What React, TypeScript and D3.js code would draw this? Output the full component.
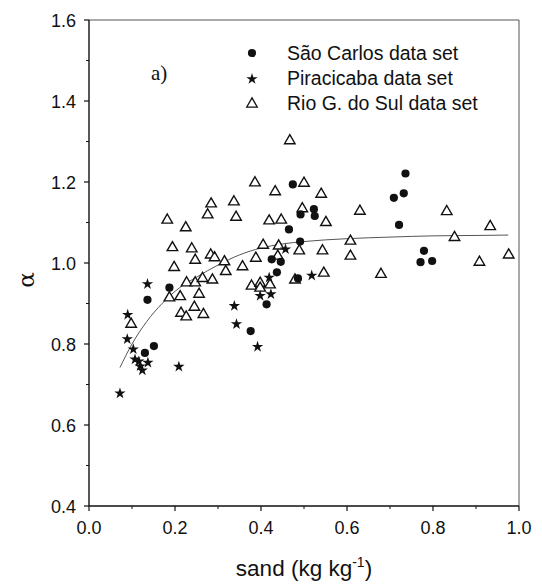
import React from "react";
import * as d3 from "d3";

const saoCarlos: [number, number][] = [
  [0.474, 1.194], [0.492, 1.12], [0.465, 1.083], [0.491, 1.053], [0.425, 1.009],
  [0.446, 1.003], [0.437, 0.977], [0.486, 0.962], [0.736, 1.221], [0.732, 1.172],
  [0.709, 1.161], [0.523, 1.133], [0.525, 1.116], [0.721, 1.094], [0.779, 1.03],
  [0.771, 1.002], [0.798, 1.005], [0.187, 0.939], [0.136, 0.909], [0.151, 0.795],
  [0.13, 0.778], [0.376, 0.832], [0.413, 0.898],
];

const piracicaba: [number, number][] = [
  [0.457, 1.034], [0.419, 0.964], [0.518, 0.969], [0.136, 0.948], [0.09, 0.872],
  [0.089, 0.812], [0.103, 0.787], [0.107, 0.762], [0.116, 0.757], [0.119, 0.745],
  [0.124, 0.735], [0.137, 0.754], [0.072, 0.678], [0.209, 0.744], [0.338, 0.894],
  [0.343, 0.849], [0.392, 0.793], [0.398, 0.919], [0.423, 0.923],
];

const rioGrande: [number, number][] = [
  [0.467, 1.302], [0.386, 1.198], [0.5, 1.197], [0.433, 1.176], [0.284, 1.146],
  [0.337, 1.151], [0.496, 1.134], [0.182, 1.106], [0.276, 1.119], [0.342, 1.113],
  [0.419, 1.104], [0.447, 1.106], [0.225, 1.087], [0.194, 1.038], [0.239, 1.035],
  [0.405, 1.044], [0.441, 1.042], [0.283, 1.02], [0.292, 1.013], [0.247, 1.007],
  [0.388, 1.012], [0.439, 1.017], [0.489, 1.03], [0.315, 1.003], [0.198, 0.989],
  [0.357, 0.991], [0.318, 0.979], [0.54, 1.17], [0.551, 1.1], [0.63, 1.128],
  [0.832, 1.127], [0.933, 1.09], [0.608, 1.054], [0.85, 1.063], [0.543, 1.03],
  [0.608, 1.017], [0.908, 1.002], [0.976, 1.02], [0.546, 0.975], [0.679, 0.972],
  [0.098, 0.849], [0.187, 0.914], [0.212, 0.917], [0.227, 0.951], [0.247, 0.951],
  [0.264, 0.962], [0.287, 0.958], [0.256, 0.923], [0.214, 0.876], [0.226, 0.867],
  [0.245, 0.891], [0.266, 0.873], [0.378, 0.943], [0.398, 0.95], [0.398, 0.938],
  [0.421, 0.946], [0.479, 0.958],
];

const fitX = [0.072, 0.1, 0.134, 0.17, 0.212, 0.25, 0.3, 0.35, 0.4, 0.45, 0.5, 0.6, 0.7, 0.8, 0.9, 0.975];
const fitY = [0.742, 0.8, 0.855, 0.9, 0.94, 0.965, 0.995, 1.02, 1.037, 1.047, 1.053, 1.06, 1.064, 1.067, 1.068, 1.069];

const xTicks = [0, 0.2, 0.4, 0.6, 0.8, 1.0];
const xMinor = [0.1, 0.3, 0.5, 0.7, 0.9];
const yTicks = [0.4, 0.6, 0.8, 1.0, 1.2, 1.4, 1.6];
const yMinor = [0.5, 0.7, 0.9, 1.1, 1.3, 1.5];

const legendLabels = ["São Carlos data set", "Piracicaba data set", "Rio G. do Sul data set"];

export default function App() {
  const x = d3.scaleLinear().domain([0, 1]).range([89, 519]);
  const y = d3.scaleLinear().domain([0.4, 1.6]).range([506, 20]);
  const font = "'Liberation Sans', Arial, sans-serif";

  const star = d3.symbol().type(d3.symbolStar).size(40)() as string;
  const tri = d3.symbol().type(d3.symbolTriangle).size(48)() as string;
  const fitLine = d3
    .line<number>()
    .x((_, i) => x(fitX[i]))
    .y((d) => y(d))
    .curve(d3.curveMonotoneX)(fitY) as string;

  const fmt = d3.format(".1f");

  return (
    <svg
      width={542}
      height={585}
      style={{ position: "absolute", left: 0, top: 0, background: "#fff" }}
    >
      <rect x={0} y={0} width={542} height={585} fill="#fff" />
      {/* frame */}
      <line x1={x(0)} x2={x(1)} y1={y(1.6)} y2={y(1.6)} stroke="#555" strokeWidth={1} />
      <line x1={x(1)} x2={x(1)} y1={y(1.6)} y2={y(0.4)} stroke="#555" strokeWidth={1} />
      <line x1={x(0)} x2={x(1)} y1={y(0.4)} y2={y(0.4)} stroke="#111" strokeWidth={1.4} />
      <line x1={x(0)} x2={x(0)} y1={y(1.6)} y2={y(0.4)} stroke="#111" strokeWidth={1.4} />
      {/* x ticks */}
      {xTicks.map((t) => (
        <g key={"xt" + t}>
          <line x1={x(t)} x2={x(t)} y1={y(0.4)} y2={y(0.4) + 5} stroke="#111" strokeWidth={1.2} />
          <text x={x(t)} y={534} textAnchor="middle" fontFamily={font} fontSize={18} fill="#111">
            {fmt(t)}
          </text>
        </g>
      ))}
      {xMinor.map((t) => (
        <line key={"xm" + t} x1={x(t)} x2={x(t)} y1={y(0.4)} y2={y(0.4) + 3} stroke="#111" strokeWidth={1} />
      ))}
      {/* y ticks */}
      {yTicks.map((t) => (
        <g key={"yt" + t}>
          <line x1={x(0) - 5} x2={x(0)} y1={y(t)} y2={y(t)} stroke="#111" strokeWidth={1.2} />
          <text x={76} y={y(t) + 6.5} textAnchor="end" fontFamily={font} fontSize={18} fill="#111">
            {fmt(t)}
          </text>
        </g>
      ))}
      {yMinor.map((t) => (
        <line key={"ym" + t} x1={x(0) - 3} x2={x(0)} y1={y(t)} y2={y(t)} stroke="#111" strokeWidth={1} />
      ))}
      {/* axis titles */}
      <text x={304} y={576} textAnchor="middle" fontFamily={font} fontSize={22.5} fill="#111">
        sand (kg kg
        <tspan dy={-9} fontSize={14}>-1</tspan>
        <tspan dy={9}>)</tspan>
      </text>
      <text
        transform="translate(34,280) rotate(-90)"
        textAnchor="middle"
        fontFamily="'DejaVu Serif', serif"
        fontSize={23}
        fill="#111"
      >
        α
      </text>
      {/* fit curve */}
      <path d={fitLine} fill="none" stroke="#555" strokeWidth={1} />
      {/* points */}
      {rioGrande.map((d, i) => (
        <path
          key={"r" + i}
          d={tri}
          transform={`translate(${x(d[0])},${y(d[1])})`}
          fill="#fff"
          stroke="#111"
          strokeWidth={1.4}
        />
      ))}
      {saoCarlos.map((d, i) => (
        <circle key={"s" + i} cx={x(d[0])} cy={y(d[1])} r={4.1} fill="#111" />
      ))}
      {piracicaba.map((d, i) => (
        <path key={"p" + i} d={star} transform={`translate(${x(d[0])},${y(d[1])})`} fill="#111" />
      ))}
      {/* legend */}
      <text x={151} y={80} fontFamily="'Liberation Serif', 'Times New Roman', serif" fontSize={21} fill="#111">
        a)
      </text>
      <circle cx={252} cy={53} r={4.1} fill="#111" />
      <path d={star} transform="translate(252,79)" fill="#111" />
      <path d={tri} transform="translate(252,104)" fill="#fff" stroke="#111" strokeWidth={1.3} />
      {legendLabels.map((l, i) => (
        <text key={l} x={287} y={60 + i * 25} fontFamily={font} fontSize={19.5} fill="#111">
          {l}
        </text>
      ))}
    </svg>
  );
}
